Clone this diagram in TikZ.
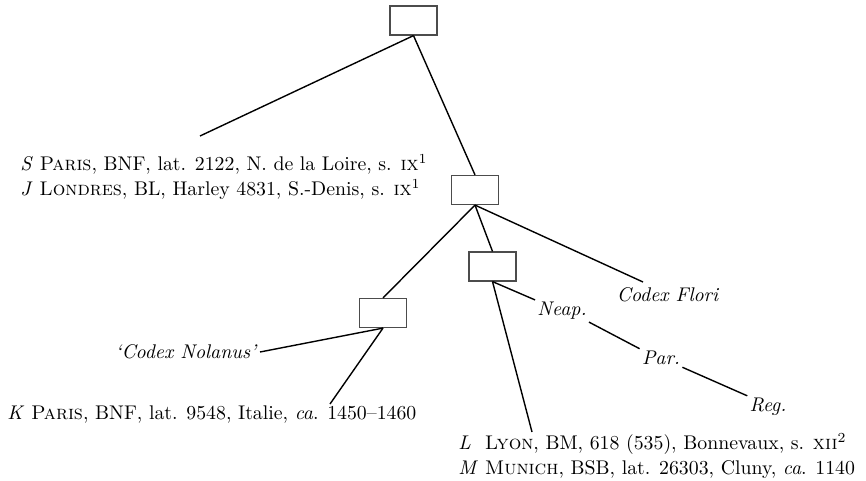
\documentclass[tikz,border=0pt]{standalone}
\usetikzlibrary{positioning}
\begin{document}
\begin{tikzpicture}[x=0.5pt,y=-0.5pt,
  hyp/.style={rectangle, draw=black!70, line width=0.6pt, minimum width=23.5pt, minimum height=14.5pt, inner sep=0pt},
  wit/.style={font=\fontsize{9.9}{12.5}\selectfont, inner sep=1pt, align=left},
  stem/.style={line width=0.7pt}
]
  \useasboundingbox (0,0) rectangle (866,481);

  % Hyparchetypes
  \node[hyp] (top) at (413.5,20.5) {};
  \node[hyp] (alpha) at (475,190) {};
  \node[hyp] (beta) at (492.5,266.5) {};
  \node[hyp] (gamma) at (383,313) {};

  % Witnesses
  \node[wit, anchor=west] (sj) at (18,177) {\textit{S} \textsc{Paris}, BNF, lat. 2122, N. de la Loire, s. \textsc{ix}\textsuperscript{1}\\
    \textit{J} \textsc{Londres}, BL, Harley 4831, S.-Denis, s. \textsc{ix}\textsuperscript{1}};
  \node[wit, anchor=east] (nolanus) at (260,352) {\textit{`Codex Nolanus'}};
  \node[wit, anchor=west] (k) at (5,415) {\textit{K} \textsc{Paris}, BNF, lat. 9548, Italie, \textit{ca}. 1450--1460};
  \node[wit, anchor=west] (lm) at (456,457) {\begin{tabular}{@{}l@{\ }l@{}}
    \textit{L} & \textsc{Lyon}, BM, 618 (535), Bonnevaux, s. \textsc{xii}\textsuperscript{2}\\
    \textit{M} & \textsc{Munich}, BSB, lat. 26303, Cluny, \textit{ca}. 1140
  \end{tabular}};
  \node[wit] (flori) at (668,295) {\textit{Codex Flori}};
  \node[wit] (neap) at (562,311) {\textit{Neap.}};
  \node[wit] (par) at (661,358) {\textit{Par.}};
  \node[wit] (reg) at (768,407) {\textit{Reg.}};

  % Free ends of the stems
  \coordinate (sjend) at (200,136);
  \coordinate (kend) at (330,404);
  \coordinate (lmend) at (532,432);
  \coordinate (floriend) at (643,282);

  % Stemma
  \draw[stem] (top.south) -- (sjend);
  \draw[stem] (top.south) -- (alpha.north);
  \draw[stem] (alpha.south) -- (gamma.north);
  \draw[stem] (alpha.south) -- (beta.north);
  \draw[stem] (alpha.south) -- (floriend);
  \draw[stem] (gamma.south) -- (nolanus.east);
  \draw[stem] (gamma.south) -- (kend);
  \draw[stem] (beta.south) -- (neap.north west);
  \draw[stem] (beta.south) -- (lmend);
  \draw[stem] (neap.south east) -- (par.north west);
  \draw[stem] (par.south east) -- (reg.north west);
\end{tikzpicture}
\end{document}
